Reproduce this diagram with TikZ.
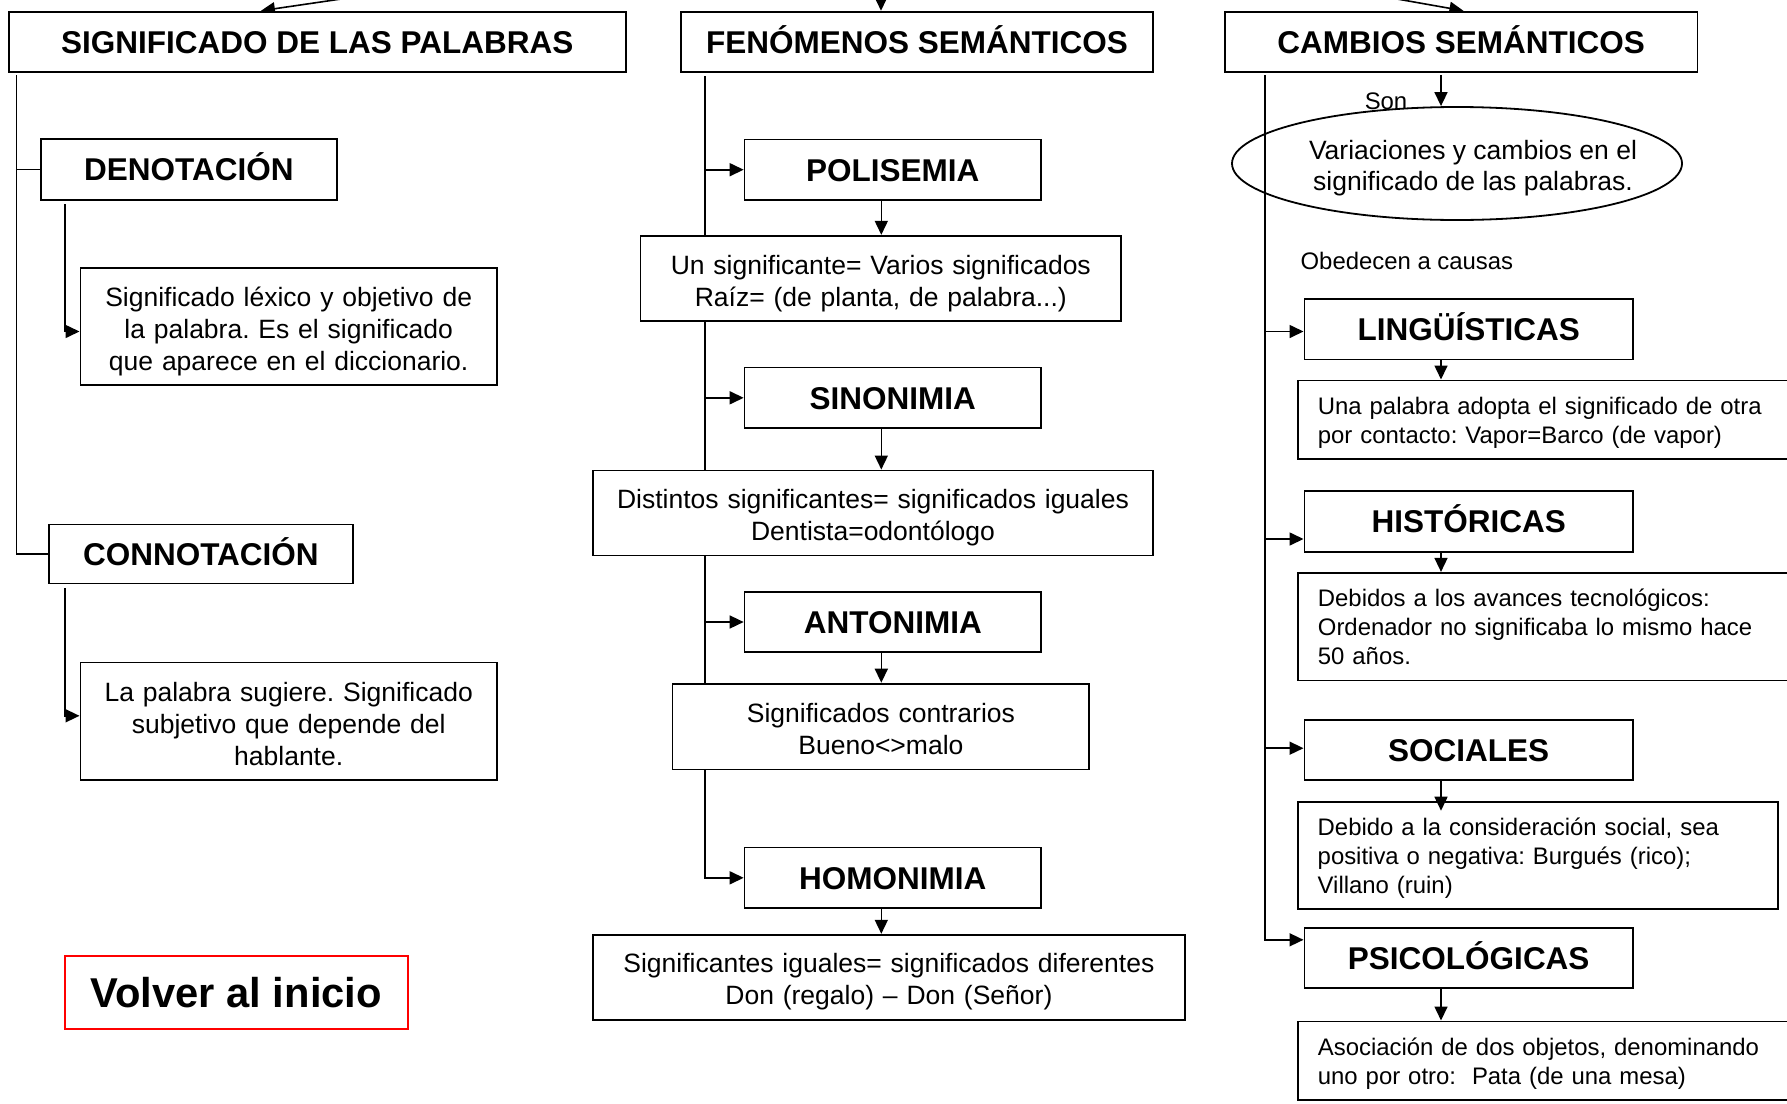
\documentclass[tikz,border=0pt]{standalone}
\usepackage{fontspec}
\setmainfont{Liberation Sans}
\usetikzlibrary{arrows.meta,shapes.geometric,calc,backgrounds}
\frenchspacing
\begin{document}
\begin{tikzpicture}[x=1pt,y=-1pt,
  hdr/.style={draw, fill=white, line width=1.8pt, inner sep=0pt, font=\bfseries\fontsize{31.5}{36}\selectfont, minimum height=60.5pt, text height=22.6pt, text depth=0pt},
  cdef/.style={draw, fill=white, line width=1.8pt, inner sep=0pt, align=center, font=\fontsize{26.5}{32}\selectfont, execute at begin node={\rule{0pt}{33pt}}, execute at end node=\strut},
  rdef/.style={draw, fill=white, line width=1.8pt, inner xsep=19.8pt, inner ysep=0pt, anchor=north west, align=left, font=\fontsize{23.9}{29}\selectfont, execute at begin node={\rule{0pt}{27.1pt}}, execute at end node=\strut},
  small/.style={inner sep=0pt, font=\fontsize{23.9}{29}\selectfont},
  conn/.style={line width=1.6pt},
  arr/.style={line width=1.6pt, -{Triangle[length=14pt,width=13pt]}},
]
\useasboundingbox (0,0) rectangle (1787,1103);
\clip (0,0) rectangle (1787,1103);

% headers
\node[hdr, minimum width=617pt] (h1) at (317.2,41.9) {SIGNIFICADO DE LAS PALABRAS};
\node[hdr, minimum width=472.5pt] (h2) at (917,41.9) {FENÓMENOS SEMÁNTICOS};
\node[hdr, minimum width=472.8pt] (h3) at (1461.1,41.9) {CAMBIOS SEMÁNTICOS};

% left column
\node[hdr, minimum width=296.2pt, minimum height=61pt] (den) at (188.9,169.5) {DENOTACIÓN};
\node[cdef, minimum width=416.6pt, text width=416.6pt, minimum height=117.4pt] (denD) at (288.7,326.3)
  {Significado léxico y objetivo de\\la palabra. Es el significado\\que aparece en el diccionario.};
\node[hdr, minimum width=304.2pt, minimum height=59pt] (con) at (200.9,554) {CONNOTACIÓN};
\node[cdef, minimum width=416.6pt, text width=416.6pt, minimum height=117.5pt] (conD) at (288.7,721.3)
  {La palabra sugiere. Significado\\subjetivo que depende del\\hablante.};
\node[draw=red, line width=1.8pt, minimum width=342.7pt, minimum height=73.1pt, inner sep=0pt,
  text height=29.9pt, text depth=0pt,
  font=\bfseries\fontsize{41.7}{48}\selectfont] (volver) at (236.3,992.2) {Volver al inicio};

% middle column
\node[hdr, minimum width=296.5pt] (pol) at (892.8,169.7) {POLISEMIA};
\node[cdef, minimum width=480.5pt, text width=480.5pt, minimum height=85.3pt] (polD) at (880.8,278.4)
  {Un significante= Varios significados\\Raíz= (de planta, de palabra...)};
\node[hdr, minimum width=296.5pt] (sin) at (892.8,397.8) {SINONIMIA};
\node[cdef, minimum width=560.6pt, text width=560.6pt, minimum height=85.1pt] (sinD) at (873,513)
  {Distintos significantes= significados iguales\\Dentista=odontólogo};
\node[hdr, minimum width=296.5pt] (ant) at (892.8,622) {ANTONIMIA};
\node[cdef, minimum width=416.8pt, text width=416.8pt, minimum height=85.8pt] (antD) at (880.9,726.5)
  {Significados contrarios\\Bueno<>malo};
\node[hdr, minimum width=296.5pt] (hom) at (892.8,877.8) {HOMONIMIA};
\node[cdef, minimum width=592.3pt, text width=592.3pt, minimum height=85pt] (homD) at (888.9,977.2)
  {Significantes iguales= significados diferentes\\Don (regalo) – Don (Señor)};

% right column
\node[small] (son) at (1386,101.5) {Son};
\node[draw, ellipse, line width=1.8pt, minimum width=450pt, minimum height=113pt, inner sep=0pt] (ell) at (1457,163.5) {};
\node[align=center, inner sep=0pt, font=\fontsize{26.5}{31}\selectfont] (elltxt) at (1473,168)
  {Variaciones y cambios en el\\significado de las palabras.};
\node[small, anchor=west] (obed) at (1300.4,261.3) {Obedecen a causas};
\node[hdr, minimum width=328.6pt, minimum height=60.3pt] (lin) at (1468.7,329.4) {LINGÜÍSTICAS};
\node[rdef, minimum width=510pt, text width=470pt, minimum height=78.9pt] (linD) at (1297,379.5)
  {Una palabra adopta el significado de otra\\por contacto: Vapor=Barco (de vapor)};
\node[hdr, minimum width=328.6pt, minimum height=60.8pt] (his) at (1468.7,521.4) {HISTÓRICAS};
\node[rdef, minimum width=510pt, text width=470pt, minimum height=107.6pt] (hisD) at (1297,571.9)
  {Debidos a los avances tecnológicos:\\Ordenador no significaba lo mismo hace\\50 años.};
\node[hdr, minimum width=328.6pt] (soc) at (1468.7,750) {SOCIALES};
\node[rdef, minimum width=480pt, text width=440.4pt, minimum height=107.3pt] (socD) at (1297,800.7)
  {Debido a la consideración social, sea\\positiva o negativa: Burgués (rico);\\Villano (ruin)};
\node[hdr, minimum width=328.6pt] (psi) at (1468.7,958) {PSICOLÓGICAS};
\node[rdef, minimum width=510pt, text width=470pt, minimum height=78.5pt] (psiD) at (1297,1020.5)
  {Asociación de dos objetos, denominando\\uno por otro:~ Pata (de una mesa)};

\begin{scope}[on background layer]
% top incoming arrows
\coordinate (tL) at (425,-13.3);
\coordinate (xL) at (261,0);
\coordinate (tM) at (881,-30);
\coordinate (tR) at (1329.4,-13);
\coordinate (xR) at (1463.4,0);
\draw[arr] (tL) -- (h1.north -| xL);
\draw[arr] (tM) -- (h2.north -| tM);
\draw[arr] (tR) -- (h3.north -| xR);

% left connectors
\coordinate (vl) at (16.6,75.4);
\draw[conn] (vl) |- (con.west);
\draw[conn] (vl |- den.west) -- ($(den.west)+(8,0)$);
\coordinate (dl) at (65,204);
\coordinate (denIn) at ($(denD.west)+(0,5.2)$);
\draw[arr] (dl) |- (denIn);
\coordinate (cl) at (65,588);
\coordinate (conIn) at ($(conD.west)+(0,-5.5)$);
\draw[arr] (cl) |- (conIn);

% middle connectors
\coordinate (vm) at (705,76);
\draw[arr] (vm) |- (hom.west);
\draw[arr] (vm |- pol.west) -- (pol.west);
\draw[arr] (vm |- sin.west) -- (sin.west);
\draw[arr] (vm |- ant.west) -- (ant.west);
\coordinate (xm) at (881.3,0);
\draw[arr] (pol.south -| xm) -- (polD.north -| xm);
\draw[arr] (sin.south -| xm) -- (sinD.north -| xm);
\draw[arr] (ant.south -| xm) -- (antD.north -| xm);
\draw[arr] (hom.south -| xm) -- (homD.north -| xm);

% right connectors
\coordinate (vr) at (1264.8,75.4);
\coordinate (psiIn) at ($(psi.west)+(0,-18.2)$);
\draw[arr] (vr) |- (psiIn);
\coordinate (linIn) at ($(lin.west)+(0,2.1)$);
\draw[arr] (vr |- linIn) -- (linIn);
\coordinate (hisIn) at ($(his.west)+(0,17.6)$);
\draw[arr] (vr |- hisIn) -- (hisIn);
\coordinate (socIn) at ($(soc.west)+(0,-1.8)$);
\draw[arr] (vr |- socIn) -- (socIn);
\coordinate (xr) at (1441,75.4);
\draw[arr] (xr) -- (ell.north -| xr);
\draw[arr] (lin.south -| xr) -- (linD.north -| xr);
\draw[arr] (his.south -| xr) -- (hisD.north -| xr);
\draw[arr] (psi.south -| xr) -- (psiD.north -| xr);
\end{scope}
\coordinate (socTip) at ($(socD.north -| xr)+(0,10)$);
\draw[arr] (soc.south -| xr) -- (socTip);
\end{tikzpicture}
\end{document}
